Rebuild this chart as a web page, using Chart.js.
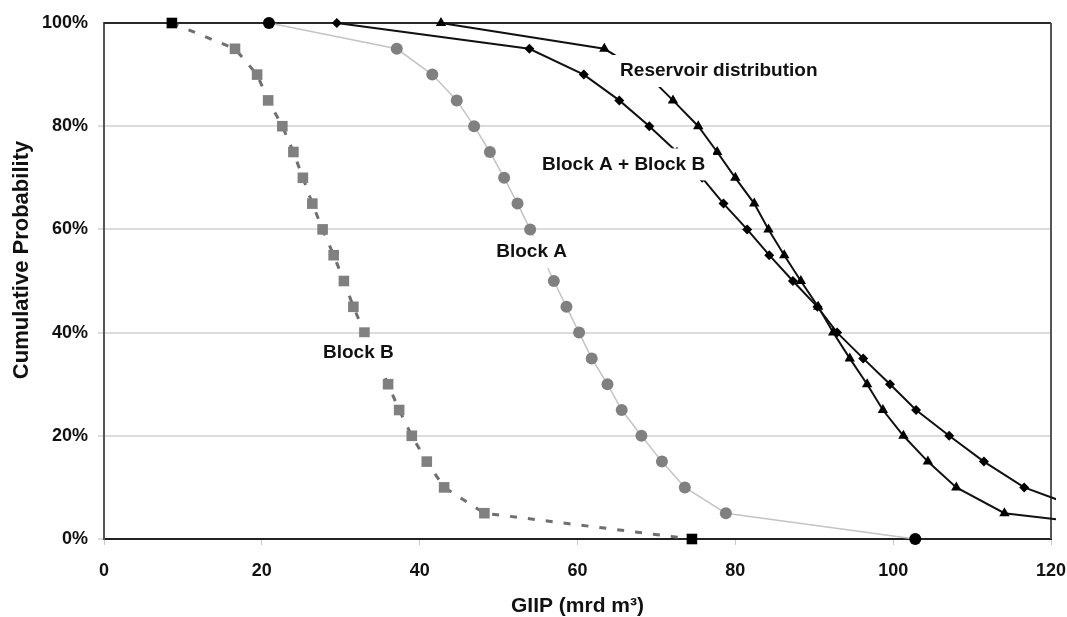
<!DOCTYPE html>
<html>
<head>
<meta charset="utf-8">
<title>GIIP cumulative probability</title>
<script src="https://cdn.jsdelivr.net/npm/chart.js@4.4.1/dist/chart.umd.min.js"></script>
<style>
  html, body { margin: 0; padding: 0; background: #fff; }
  #wrap { width: 1067px; height: 617px; }
</style>
</head>
<body>
<div id="wrap"><canvas id="giip-canvas"></canvas></div>
<script>
// cumulative probability (%) for every curve point, P100 first
const probLevels = [100, 95, 90, 85, 80, 75, 70, 65, 60, 55, 50, 45, 40, 35, 30, 25, 20, 15, 10, 5, 0];

// GIIP values (mrd m3) at each probability level
const blockB = [8.6, 16.6, 19.4, 20.8, 22.6, 24.0, 25.2, 26.4, 27.7, 29.1, 30.4,
  31.6, 33.0, 34.5, 36.0, 37.4, 39.0, 40.9, 43.1, 48.2, 74.5];
const blockA = [20.9, 37.1, 41.6, 44.7, 46.9, 48.9, 50.7, 52.4, 54.0, 55.5, 57.0,
  58.6, 60.2, 61.8, 63.8, 65.6, 68.1, 70.7, 73.6, 78.8, 102.8];
const blockAB = [29.5, 53.9, 60.8, 65.3, 69.1, 72.6, 75.8, 78.5, 81.5, 84.3, 87.3,
  90.4, 92.9, 96.2, 99.6, 102.9, 107.1, 111.5, 116.6, 125.5];
const reservoir = [42.7, 63.4, 68.8, 72.1, 75.3, 77.7, 80.0, 82.4, 84.2, 86.2, 88.3,
  90.5, 92.4, 94.5, 96.7, 98.7, 101.3, 104.4, 108.0, 114.1, 142.0];

const xTicks = [0, 20, 40, 60, 80, 100, 120];
const yTicks = [0, 20, 40, 60, 80, 100];

// curve names written next to the curves (data units, left edge / middle)
const curveLabels = [
  { text: 'Reservoir distribution', x: 65.4, y: 90.7 },
  { text: 'Block A + Block B', x: 55.5, y: 72.6 },
  { text: 'Block A', x: 49.7, y: 55.6 },
  { text: 'Block B', x: 27.75, y: 36.0 },
];

const FONT = '"Liberation Sans", Arial, Helvetica, sans-serif';
const toPoints = xs => xs.map((x, i) => ({ x, y: probLevels[i] }));
const isEnd = ctx => ctx.dataIndex === 0 || ctx.dataIndex === ctx.dataset.data.length - 1;
const clip = { left: 10, top: 10, right: 5, bottom: 10 };

const frame = {
  id: 'frame',
  beforeDatasetsDraw(chart) {
    const { ctx, chartArea: { left, top, right, bottom } } = chart;
    ctx.save();
    ctx.lineWidth = 2;
    ctx.strokeStyle = '#2a2a2a';
    ctx.beginPath();
    ctx.moveTo(left, top);
    ctx.lineTo(right, top);
    ctx.stroke();
    ctx.strokeStyle = '#555';
    ctx.beginPath();
    ctx.moveTo(right, top);
    ctx.lineTo(right, bottom);
    ctx.stroke();
    ctx.restore();
  },
};

const labels = {
  id: 'curveLabels',
  afterDatasetsDraw(chart) {
    const { ctx, scales: { x, y } } = chart;
    ctx.save();
    ctx.font = `bold 19px ${FONT}`;
    ctx.textBaseline = 'middle';
    curveLabels.forEach(label => {
      const left = x.getPixelForValue(label.x);
      const mid = y.getPixelForValue(label.y);
      const w = ctx.measureText(label.text).width;
      ctx.fillStyle = '#fff';
      ctx.fillRect(left - 8, mid - 16, w + 16, 32);
      ctx.fillStyle = '#111';
      ctx.fillText(label.text, left, mid);
    });
    ctx.restore();
  },
  afterDraw(chart) {
    // y axis title, drawn by hand so it sits a bit above centre
    const { ctx, chartArea } = chart;
    ctx.save();
    ctx.font = `bold 22px ${FONT}`;
    ctx.fillStyle = '#111';
    ctx.textAlign = 'center';
    ctx.textBaseline = 'middle';
    ctx.translate(22, chartArea.top + 237);
    ctx.rotate(-Math.PI / 2);
    ctx.fillText('Cumulative Probability', 0, 0);
    ctx.restore();
  },
};

const canvas = document.getElementById('giip-canvas');

new Chart(canvas, {
  type: 'scatter',
  data: {
    datasets: [
      {
        label: 'Reservoir distribution',
        data: toPoints(reservoir),
        showLine: true,
        borderColor: '#111',
        borderWidth: 2,
        pointStyle: 'triangle',
        pointRadius: 6,
        pointBorderWidth: 0,
        pointBackgroundColor: '#000',
        clip,
      },
      {
        label: 'Block A + Block B',
        data: toPoints(blockAB),
        showLine: true,
        borderColor: '#111',
        borderWidth: 2,
        pointStyle: 'rectRot',
        pointRadius: 5,
        pointBorderWidth: 0,
        pointBackgroundColor: '#000',
        clip,
      },
      {
        label: 'Block A',
        data: toPoints(blockA),
        showLine: true,
        borderColor: '#c4c4c4',
        borderWidth: 1.5,
        pointStyle: 'circle',
        pointRadius: 6,
        pointBorderWidth: 0,
        pointBackgroundColor: ctx => (isEnd(ctx) ? '#000' : '#808080'),
        clip,
      },
      {
        label: 'Block B',
        data: toPoints(blockB),
        showLine: true,
        borderColor: '#6f6f6f',
        borderWidth: 3,
        borderDash: [7, 11],
        pointStyle: 'rect',
        pointRadius: 7.5,
        pointBorderWidth: 0,
        pointBackgroundColor: ctx => (isEnd(ctx) ? '#000' : '#808080'),
        clip,
      },
    ],
  },
  options: {
    responsive: true,
    maintainAspectRatio: false,
    animation: false,
    layout: { padding: { left: 0, right: 16, top: 23, bottom: 0 } },
    plugins: {
      legend: { display: false },
      tooltip: { enabled: false },
    },
    scales: {
      x: {
        type: 'linear',
        min: 0,
        max: 120,
        afterFit: scale => {
          scale.height = 78;
          // let the end labels hang into the page margin
          scale.paddingLeft = 0;
          scale.paddingRight = 0;
        },
        afterBuildTicks: scale => { scale.ticks = xTicks.map(value => ({ value })); },
        grid: { drawOnChartArea: false, drawTicks: true, tickLength: 6, color: '#c8c8c8' },
        border: { color: '#222', width: 2 },
        ticks: { padding: 15, color: '#111', font: { family: FONT, size: 18, weight: 'bold' } },
        title: {
          display: true,
          text: 'GIIP (mrd m³)',
          color: '#111',
          padding: 0,
          font: { family: FONT, size: 21, weight: 'bold', lineHeight: 1 },
        },
      },
      y: {
        min: 0,
        max: 100,
        afterFit: scale => { scale.width = 104; },
        afterBuildTicks: scale => { scale.ticks = yTicks.map(value => ({ value })); },
        grid: {
          drawTicks: true,
          tickLength: 6,
          lineWidth: 2,
          color: ctx => (ctx.tick && ctx.tick.value === 100 ? 'rgba(0,0,0,0)' : '#dcdcdc'),
        },
        border: { color: '#555', width: 2 },
        ticks: {
          padding: 10,
          color: '#111',
          font: { family: FONT, size: 18, weight: 'bold' },
          callback: value => value + '%',
        },
      },
    },
  },
  plugins: [frame, labels],
});
</script>
</body>
</html>
